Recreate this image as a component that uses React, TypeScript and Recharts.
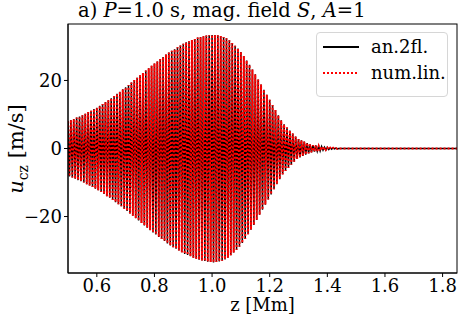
import { LineChart, Line, XAxis, YAxis } from "recharts";

// z positions of the wave crests/troughs [Mm]
const zMm = [
  0.5, 0.505, 0.51, 0.515, 0.52, 0.525, 0.53, 0.535, 0.54, 0.545,
  0.55, 0.555, 0.56, 0.565, 0.57, 0.575, 0.58, 0.585, 0.59, 0.595,
  0.6, 0.605, 0.61, 0.615, 0.62, 0.625, 0.63, 0.635, 0.64, 0.645,
  0.65, 0.655, 0.66, 0.665, 0.67, 0.675, 0.68, 0.685, 0.69, 0.695,
  0.7, 0.705, 0.71, 0.715, 0.72, 0.725, 0.73, 0.735, 0.74, 0.745,
  0.75, 0.755, 0.76, 0.765, 0.77, 0.775, 0.78, 0.785, 0.79, 0.795,
  0.8, 0.805, 0.81, 0.815, 0.82, 0.825, 0.83, 0.835, 0.84, 0.845,
  0.85, 0.855, 0.86, 0.865, 0.87, 0.875, 0.88, 0.885, 0.89, 0.895,
  0.9, 0.905, 0.91, 0.915, 0.92, 0.925, 0.93, 0.935, 0.94, 0.945,
  0.95, 0.955, 0.96, 0.965, 0.97, 0.975, 0.98, 0.985, 0.99, 0.995,
  1.0, 1.005, 1.01, 1.015, 1.02, 1.025, 1.03, 1.035, 1.04, 1.045,
  1.05, 1.055, 1.06, 1.065, 1.07, 1.075, 1.08, 1.085, 1.09, 1.095,
  1.1, 1.105, 1.11, 1.115, 1.12, 1.125, 1.13, 1.135, 1.14, 1.145,
  1.15, 1.155, 1.16, 1.165, 1.17, 1.175, 1.18, 1.185, 1.19, 1.195,
  1.2, 1.205, 1.21, 1.215, 1.22, 1.225, 1.23, 1.235, 1.24, 1.245,
  1.25, 1.255, 1.26, 1.265, 1.27, 1.275, 1.28, 1.285, 1.29, 1.295,
  1.3, 1.305, 1.31, 1.315, 1.32, 1.325, 1.33, 1.335, 1.34, 1.345,
  1.35, 1.355, 1.36, 1.365, 1.37, 1.375, 1.38, 1.385, 1.39, 1.395,
  1.4, 1.405, 1.41, 1.415, 1.42, 1.425, 1.43, 1.435, 1.44, 1.445,
  1.45, 1.85,
];

// u_cz at those points [m/s], analytic two-fluid solution
const uAn2fl = [
  8.0, -8.2, 8.4, -8.5, 8.7, -8.9, 9.1, -9.3, 9.4, -9.6,
  9.8, -10.0, 10.2, -10.5, 10.7, -10.9, 11.1, -11.3, 11.6, -11.8,
  12.0, -12.3, 12.6, -12.8, 13.1, -13.4, 13.7, -14.0, 14.2, -14.5,
  14.8, -15.1, 15.4, -15.8, 16.1, -16.4, 16.7, -17.0, 17.4, -17.7,
  18.0, -18.4, 18.7, -19.1, 19.4, -19.8, 20.1, -20.5, 20.8, -21.2,
  21.5, -21.9, 22.2, -22.6, 22.9, -23.3, 23.6, -24.0, 24.3, -24.7,
  25.0, -25.3, 25.6, -26.0, 26.3, -26.6, 26.9, -27.2, 27.6, -27.9,
  28.2, -28.5, 28.7, -29.0, 29.2, -29.5, 29.8, -30.0, 30.3, -30.5,
  30.8, -31.0, 31.2, -31.3, 31.5, -31.7, 31.9, -32.1, 32.2, -32.4,
  32.6, -32.7, 32.8, -32.9, 33.0, -33.1, 33.2, -33.3, 33.3, -33.4,
  33.4, -33.5, 33.4, -33.4, 33.3, -33.2, 33.1, -33.0, 32.8, -32.6,
  32.4, -32.1, 31.8, -31.4, 31.0, -30.6, 30.2, -29.8, 29.4, -28.9,
  28.4, -27.8, 27.2, -26.6, 25.9, -25.2, 24.6, -23.9, 23.2, -22.5,
  21.8, -21.0, 20.3, -19.5, 18.8, -18.0, 17.3, -16.5, 15.8, -15.0,
  14.3, -13.5, 12.8, -12.0, 11.3, -10.5, 9.8, -9.0, 8.3, -7.6,
  7.1, -6.6, 6.2, -5.7, 5.3, -4.8, 4.4, -3.9, 3.5, -3.1,
  2.8, -2.6, 2.4, -2.2, 2.0, -1.8, 1.6, -1.4, 1.2, -1.1,
  1.0, -0.9, 0.9, -0.8, 0.7, -0.7, 0.6, -0.5, 0.4, -0.4,
  0.3, -0.3, 0.2, -0.2, 0.2, -0.1, 0.1, -0.1, 0.0, 0.0,
  0.0, 0.0,
];

// numerical linear run coincides with the analytic curve in the picture
const uNumLin = uAn2fl;

const xTicks = [0.6, 0.8, 1.0, 1.2, 1.4, 1.6, 1.8];
const yTicks = [-20, 0, 20];

const FONT = "DejaVu Serif";
const W = 463;
const H = 316;
const M = { top: 24, right: 6, bottom: 0, left: 0 };
const X_AXIS_H = 43;
const Y_AXIS_W = 68;

const rows = zMm.map((z, i) => ({ z, an: uAn2fl[i], num: uNumLin[i] }));

const fmtY = (v: number) => (v < 0 ? `\u2212${Math.abs(v)}` : `${v}`);

export default function App() {
  const plotL = M.left + Y_AXIS_W;
  const plotR = W - M.right;
  const plotT = M.top;
  const plotB = H - M.bottom - X_AXIS_H;

  return (
    <div style={{ position: "absolute", left: 0, top: 0, width: W, height: H, background: "#fff", fontFamily: FONT }}>
      <LineChart width={W} height={H} data={rows} margin={M}>
        <XAxis
          type="number"
          dataKey="z"
          domain={[0.5, 1.85]}
          ticks={xTicks}
          allowDataOverflow
          tickFormatter={(v: number) => v.toFixed(1)}
          height={X_AXIS_H}
          tickSize={4}
          tickMargin={2}
          tick={{ fontSize: 18, fill: "#000", fontFamily: FONT }}
          stroke="#000"
          label={{ value: "z [Mm]", position: "insideBottom", offset: 5, fontSize: 18, fill: "#000", fontFamily: FONT }}
        />
        <YAxis
          type="number"
          domain={[-36.6, 36.6]}
          ticks={yTicks}
          allowDataOverflow
          tickFormatter={fmtY}
          width={Y_AXIS_W}
          tickSize={4}
          tickMargin={2}
          tick={{ fontSize: 18, fill: "#000", fontFamily: FONT }}
          stroke="#000"
        />
        <Line type="linear" dataKey="an" stroke="#000" strokeWidth={1.5} dot={false} isAnimationActive={false} />
        <Line type="linear" dataKey="num" stroke="#ff0000" strokeWidth={2} strokeDasharray="2 2" dot={false} isAnimationActive={false} />
      </LineChart>

      <svg width={W} height={H} style={{ position: "absolute", left: 0, top: 0, pointerEvents: "none" }}>
        <rect x={plotL} y={plotT} width={plotR - plotL} height={plotB - plotT} fill="none" stroke="#000" strokeWidth={1} />
        <text x={78} y={17} fontSize={19.5} fontFamily={FONT} fill="#000">
          a) <tspan fontStyle="italic">P</tspan>=1.0 s, mag. field <tspan fontStyle="italic">S</tspan>, <tspan fontStyle="italic">A</tspan>=1
        </text>
        <text transform="translate(23,149) rotate(-90)" textAnchor="middle" fontSize={21} fontFamily={FONT} fill="#000">
          <tspan fontStyle="italic">u</tspan>
          <tspan fontSize={14} dy={5}>cz</tspan>
          <tspan dy={-5}> [m/s]</tspan>
        </text>
      </svg>

      <div
        style={{
          position: "absolute",
          left: 316,
          top: 32,
          width: 132,
          height: 65,
          boxSizing: "border-box",
          border: "1px solid #d6d6d6",
          borderRadius: 4,
          background: "rgba(255,255,255,0.85)",
        }}
      >
        <svg width={132} height={65}>
          <line x1={6} x2={42} y1={14} y2={14} stroke="#000" strokeWidth={2} />
          <text x={54} y={14} dy="0.35em" fontSize={18} fontFamily={FONT} fill="#000">an.2fl.</text>
          <line x1={6} x2={42} y1={40} y2={40} stroke="#ff0000" strokeWidth={2} strokeDasharray="2 2" />
          <text x={54} y={40} dy="0.35em" fontSize={18} fontFamily={FONT} fill="#000">num.lin.</text>
        </svg>
      </div>
    </div>
  );
}
